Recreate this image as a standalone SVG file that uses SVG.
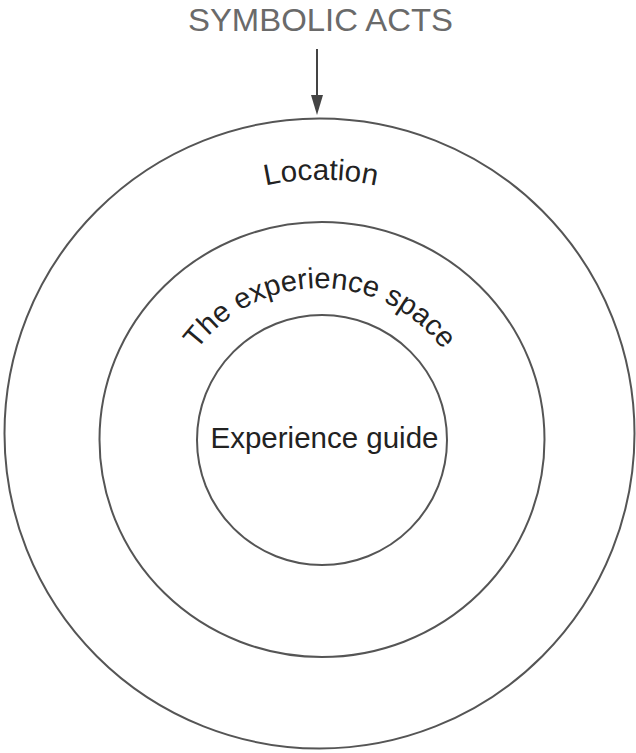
<svg xmlns="http://www.w3.org/2000/svg" xmlns:xlink="http://www.w3.org/1999/xlink" width="636" height="753" viewBox="0 0 636 753">
  <style>
    .ring { fill: none; stroke: #555; stroke-width: 2; }
    .lbl { font-family: "Liberation Sans", Arial, sans-serif; fill: #222; font-size: 29.5px; }
    .arc { font-size: 29px; }
    .top { font-family: "Liberation Sans", Arial, sans-serif; fill: #6a6a6a; font-size: 31px; }
    .conn { stroke: #444; stroke-width: 2; fill: none; }
  </style>
  <defs>
    <path id="locArc" d="M 67,433.5 A 254,254 0 0 1 575,433.5"/>
    <path id="expArc" d="M 167,441 A 153,153 0 0 1 473,441"/>
  </defs>
  <rect width="636" height="753" fill="#fff"/>
  <g id="symbolic-acts">
    <text class="top" x="320.5" y="31" text-anchor="middle" textLength="265" lengthAdjust="spacingAndGlyphs">SYMBOLIC ACTS</text>
  </g>
  <g id="location">
    <circle class="ring" cx="319.5" cy="433.5" r="315"/>
    <text class="lbl"><textPath href="#locArc" xlink:href="#locArc" startOffset="50%" text-anchor="middle">Location</textPath></text>
  </g>
  <g id="experience-space">
    <ellipse class="ring" cx="322" cy="439.5" rx="222.5" ry="217.5"/>
    <text class="lbl arc"><textPath href="#expArc" xlink:href="#expArc" startOffset="50%" text-anchor="middle">The experience space</textPath></text>
  </g>
  <g id="experience-guide">
    <circle class="ring" cx="322" cy="440" r="125"/>
    <text class="lbl" x="324.5" y="448" text-anchor="middle">Experience guide</text>
  </g>
  <g id="connectors">
    <line class="conn" x1="317" y1="49" x2="317" y2="95"/>
    <path d="M311,95 L317,115 L323,95 Z" fill="#444"/>
  </g>
</svg>
